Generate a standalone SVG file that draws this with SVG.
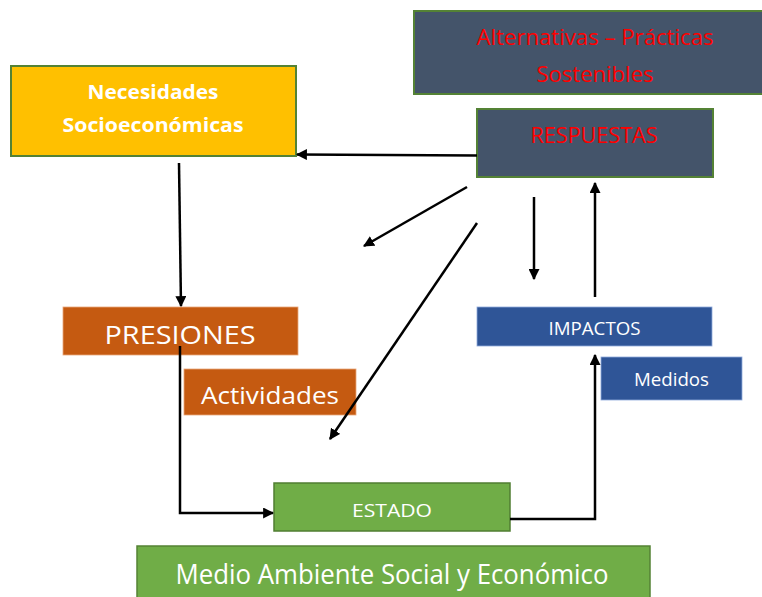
<svg xmlns="http://www.w3.org/2000/svg" width="762" height="597" viewBox="0 0 762 597">
<style>
text{font-family:"Open Sans","Noto Sans","Liberation Sans",sans-serif;text-anchor:middle}
.w{fill:#fff}
.r{fill:#ff0000}
.b{font-weight:bold}
.ln{stroke:#000;stroke-width:2.5;fill:none}
</style>
<defs>
<marker id="ah" viewBox="0 0 10 10" refX="9" refY="5" markerWidth="4.4" markerHeight="4.4" orient="auto" markerUnits="strokeWidth">
<path d="M0,0 L10,5 L0,10 z" fill="#000"/>
</marker>
</defs>
<rect width="762" height="597" fill="#fff"/>
<g id="nodes">
<g id="necesidades">
<rect x="11" y="66" width="285" height="90" fill="#FFC000" stroke="#548235" stroke-width="2"/>
<text x="153" y="99" class="w b" font-size="19" textLength="131" lengthAdjust="spacingAndGlyphs">Necesidades</text>
<text x="153" y="132" class="w b" font-size="19" textLength="181" lengthAdjust="spacingAndGlyphs">Socioeconómicas</text>
</g>
<g id="alternativas">
<rect x="414" y="11" width="350" height="83" fill="#44546A" stroke="#548235" stroke-width="2"/>
<text x="595" y="45" class="r" font-size="21" textLength="237" lengthAdjust="spacingAndGlyphs">Alternativas – Prácticas</text>
<text x="595" y="82" class="r" font-size="21" textLength="117" lengthAdjust="spacingAndGlyphs">Sostenibles</text>
</g>
<g id="respuestas">
<rect x="477" y="109" width="236" height="68" fill="#44546A" stroke="#548235" stroke-width="2"/>
<text x="594" y="143" class="r" font-size="21" textLength="127" lengthAdjust="spacingAndGlyphs">RESPUESTAS</text>
</g>
<g id="presiones">
<rect x="63" y="307" width="235" height="48" fill="#C55A11" stroke="#E9A77A" stroke-width="0.8"/>
<text x="180" y="344" class="w" font-size="26" textLength="151" lengthAdjust="spacingAndGlyphs">PRESIONES</text>
</g>
<g id="actividades">
<rect x="184" y="369" width="172" height="46" fill="#C55A11" stroke="#E9A77A" stroke-width="0.8"/>
<text x="270" y="404" class="w" font-size="23" textLength="138" lengthAdjust="spacingAndGlyphs">Actividades</text>
</g>
<g id="impactos">
<rect x="477" y="307" width="235" height="39" fill="#2F5597" stroke="#8FAADC" stroke-width="0.8"/>
<text x="594.5" y="335" class="w" font-size="19" textLength="92" lengthAdjust="spacingAndGlyphs">IMPACTOS</text>
</g>
<g id="medidos">
<rect x="601" y="357" width="141" height="43" fill="#2F5597" stroke="#8FAADC" stroke-width="0.8"/>
<text x="671.5" y="386" class="w" font-size="19" textLength="75" lengthAdjust="spacingAndGlyphs">Medidos</text>
</g>
<g id="estado">
<rect x="274" y="483" width="236" height="48" fill="#70AD47" stroke="#507E32" stroke-width="1.5"/>
<text x="392" y="517" class="w" font-size="19" textLength="80" lengthAdjust="spacingAndGlyphs">ESTADO</text>
</g>
<g id="medio">
<rect x="137" y="546" width="513" height="52" fill="#70AD47" stroke="#548235" stroke-width="1.5"/>
<text x="392" y="584" class="w" font-size="27" textLength="433" lengthAdjust="spacingAndGlyphs">Medio Ambiente Social y Económico</text>
</g>
</g>
<g id="connectors">
<line class="ln" x1="477" y1="155.5" x2="297" y2="154.5" marker-end="url(#ah)"/>
<line class="ln" x1="179" y1="163" x2="181" y2="306" marker-end="url(#ah)"/>
<polyline class="ln" points="180,346 180,513 273,513" marker-end="url(#ah)"/>
<polyline class="ln" points="510,519 595,519 595,355" marker-end="url(#ah)"/>
<line class="ln" x1="467" y1="187" x2="364" y2="246" marker-end="url(#ah)"/>
<line class="ln" x1="477" y1="223" x2="330" y2="439" marker-end="url(#ah)"/>
<line class="ln" x1="534" y1="197" x2="534" y2="279" marker-end="url(#ah)"/>
<line class="ln" x1="595" y1="297" x2="595" y2="183" marker-end="url(#ah)"/>
</g>
</svg>
